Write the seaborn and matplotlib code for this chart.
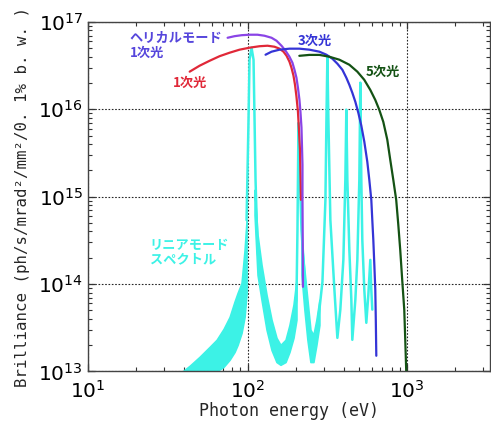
import numpy as np
import pandas as pd
import matplotlib
matplotlib.use("Agg")
import matplotlib.pyplot as plt
from matplotlib.ticker import LogLocator, FuncFormatter, NullFormatter
import seaborn as sns

# ---- undulator brilliance curves (photon energy in eV, brilliance) ----
linear_1st_E = [43.4, 50.1, 57.9, 66.8, 77.2, 89.1, 102.9, 118.9, 133.4, 147.5, 158.5, 167.9,
                175.4, 183.0, 188.4, 193.9, 198.2, 202.4, 206.8, 209.9, 212.9, 214.4, 216.0]
linear_1st_B = [2.7e16, 3.16e16, 3.6e16, 4.06e16, 4.45e16, 4.82e16, 5.08e16, 5.28e16, 5.35e16, 5.21e16, 4.95e16, 4.57e16,
                4.11e16, 3.51e16, 2.99e16, 2.43e16, 1.91e16, 1.40e16, 9.4e15, 5.8e15, 3.44e15, 1.78e15, 9.2e14]

helical_1st_E = [75.0, 82.9, 91.7, 102.9, 115.5, 127.7, 141.3, 151.8, 163.1, 172.9, 183.0, 191.0,
                 196.7, 202.4, 206.8, 211.3, 214.4, 217.6, 219.1, 220.8, 220.8, 221.6, 222.3]
helical_1st_B = [6.6e16, 6.88e16, 7.06e16, 7.15e16, 7.15e16, 6.96e16, 6.6e16, 6.1e16, 5.35e16, 4.69e16, 4.0e16, 3.42e16,
                 2.84e16, 2.3e16, 1.77e16, 1.29e16, 9.4e15, 6.2e15, 3.93e15, 2.32e15, 9.2e14, 3.2e14, 9.3e13]

linear_3rd_E = [129.6, 141.3, 158.5, 183.0, 211.3, 244.1, 281.8, 311.9, 339.8, 365.2, 392.4, 415.6, 434.0, 453.0,
                473.2, 494.2, 515.8, 538.5, 562.3, 578.8, 595.7, 604.3, 613.2, 622.3, 631.0, 635.6, 640.2]
linear_3rd_B = [4.22e16, 4.57e16, 4.82e16, 4.95e16, 4.95e16, 4.82e16, 4.57e16, 4.22e16, 3.8e16, 3.33e16, 2.84e16, 2.30e16,
                1.91e16, 1.55e16, 1.22e16, 9.1e15, 6.5e15, 4.26e15, 2.51e15, 1.56e15, 9.2e14, 5.4e14, 3.2e14, 1.66e14,
                8.6e13, 3.9e13, 1.51e13]

linear_5th_E = [211, 244, 282, 325.5, 376, 434, 487, 538, 587, 631, 668, 708, 750, 783, 818, 853, 879, 904,
                930, 958, 972, 986]
linear_5th_B = [4.1e16, 4.2e16, 4.2e16, 4.0e16, 3.7e16, 3.24e16, 2.7e16, 2.18e16, 1.67e16, 1.28e16, 9.9e15, 7.2e15,
                4.5e15, 2.64e15, 1.56e15, 9.2e14, 4.8e14, 2.46e14, 1.12e14, 5.1e13, 2.3e13, 9.9e12]

# ---- linear-mode spectrum: harmonic peaks and the dense side-lobe bands ----
spectrum_E = [98.6, 101.4, 102.9, 105.9, 109.0, 110.6, 112.2, 115.5, 122.3, 137.2, 158.5, 183.0,
              202.4, 205.4, 208.4, 211.3, 217.6, 230.4, 247.7, 266.1, 281.8, 294.4, 307.4, 311.9,
              316.2, 320.8, 330.1, 349.9, 365.2, 381.1, 398.1, 409.7, 415.6, 421.7, 434.0, 446.7,
              453.0, 473.2, 487.0, 501.2, 508.4, 515.8, 523.2, 538.5, 554.3, 570.6, 587.1, 595.7, 604.3]
spectrum_B = [5.4e14, 7.6e15, 3.7e16, 5.08e16, 3.7e16, 7.6e15, 1.56e15, 2.46e14, 1.06e14, 3.0e13, 1.55e13, 2.3e13,
              6.6e13, 4.2e14, 7.0e15, 2.64e15, 4.2e14, 8.6e13, 1.91e13, 2.3e13, 5.1e13, 1.06e14, 9.2e14, 7.6e15,
              4.01e16, 7.6e15, 5.4e14, 8.6e13, 2.42e13, 5.1e13, 1.89e14, 1.56e15, 9.9e15, 1.56e15, 2.46e14, 6.6e13,
              2.3e13, 6.6e13, 1.89e14, 1.56e15, 2.02e16, 1.56e15, 3.2e14, 8.6e13, 3.6e13, 7.5e13, 1.89e14, 8.6e13, 5.1e13]

band_low_E = [39.2, 43.4, 50.1, 57.9, 64.0, 70.8, 77.2, 82.9, 86.6, 91.7, 95.8, 98.6]
band_low_hi = [1.0e13, 1.16e13, 1.47e13, 1.91e13, 2.3e13, 3.07e13, 4.2e13, 6.3e13, 7.9e13, 1.03e14, 2.46e14, 5.4e14]
band_low_lo = [8e12, 8e12, 8e12, 8e12, 1.0e13, 1.13e13, 1.36e13, 1.67e13, 2.01e13, 2.76e13, 4.2e13, 7.9e13]

band_mid_E = [110.6, 115.5, 122.3, 131.5, 141.3, 151.8, 160.8, 172.9, 183.0, 193.9, 202.4]
band_mid_hi = [1.2e15, 3.65e14, 1.66e14, 7.5e13, 3.9e13, 2.42e13, 2.01e13, 2.3e13, 3.4e13, 5.8e13, 1.12e14]
band_mid_lo = [6.2e14, 1.27e14, 6.6e13, 3.0e13, 1.76e13, 1.28e13, 1.19e13, 1.28e13, 1.67e13, 2.42e13, 3.9e13]

band_high_E = [217.6, 227.0, 237.1, 247.7, 258.5, 269.9, 281.8]
band_high_hi = [3.2e14, 1.45e14, 6.6e13, 3.0e13, 2.62e13, 3.9e13, 6.6e13]
band_high_lo = [1.27e14, 5.1e13, 2.3e13, 1.28e13, 1.28e13, 2.01e13, 3.4e13]

CYAN = "#3cf2e6"
RED = "#e02838"
PURPLE = "#8a44e6"
BLUE = "#3434d6"
GREEN = "#145214"

sns.set_theme(style="ticks")
plt.rcParams["font.family"] = ["DejaVu Sans", "Noto Sans CJK JP"]
plt.rcParams["mathtext.default"] = "regular"

fig = plt.figure(figsize=(4.91, 4.23), dpi=100)
ax = fig.add_axes([0.179, 0.122, 0.819, 0.826])
ax.set_xscale("log")
ax.set_yscale("log")
ax.set_xlim(10, 3300)
ax.set_ylim(1e13, 1e17)

# linear-mode spectrum (drawn first, underneath the envelopes)
for bE, bhi, blo in [(band_low_E, band_low_hi, band_low_lo),
                     (band_mid_E, band_mid_hi, band_mid_lo),
                     (band_high_E, band_high_hi, band_high_lo)]:
    ax.fill_between(bE, blo, bhi, color=CYAN, lw=1.2, edgecolor=CYAN, zorder=2)
spec = pd.DataFrame({"E": spectrum_E, "B": spectrum_B})
sns.lineplot(data=spec, x="E", y="B", ax=ax, color=CYAN, lw=1.8, sort=False, estimator=None, zorder=2)

curves = [
    (linear_1st_E, linear_1st_B, RED, 3),
    (helical_1st_E, helical_1st_B, PURPLE, 4),
    (linear_3rd_E, linear_3rd_B, BLUE, 4),
    (linear_5th_E, linear_5th_B, GREEN, 4),
]
for cE, cB, col, z in curves:
    sns.lineplot(x=cE, y=cB, ax=ax, color=col, lw=1.6, sort=False, estimator=None, zorder=z)

# grid at the decades
ax.grid(True, which="major", color="black", ls=(0, (1.5, 1.5)), lw=0.8, alpha=0.85)

ax.xaxis.set_major_locator(LogLocator(base=10, numticks=10))
ax.xaxis.set_minor_locator(LogLocator(base=10, subs=np.arange(2, 10), numticks=20))
ax.yaxis.set_major_locator(LogLocator(base=10, numticks=10))
ax.yaxis.set_minor_locator(LogLocator(base=10, subs=np.arange(2, 10), numticks=20))
fmt = FuncFormatter(lambda v, p: r"$10^{%d}$" % round(np.log10(v)))
ax.xaxis.set_major_formatter(fmt)
ax.yaxis.set_major_formatter(fmt)
ax.xaxis.set_minor_formatter(NullFormatter())
ax.yaxis.set_minor_formatter(NullFormatter())
ax.tick_params(which="both", direction="in", top=True, right=True, colors="#333333", labelcolor="black")
ax.tick_params(which="major", length=5, width=0.9, labelsize=14.5)
ax.tick_params(which="minor", length=3, width=0.8)
ax.tick_params(axis="x", pad=6)
for s in ax.spines.values():
    s.set_color("#444444")
    s.set_linewidth(1.0)

ax.set_xlabel("Photon energy (eV)", family="DejaVu Sans Mono", fontsize=12, labelpad=0)
ax.set_ylabel("Brilliance (ph/s/mrad²/mm²/0. 1% b. w. )", family="DejaVu Sans Mono", fontsize=11.3, labelpad=6)

jp = dict(family=["Noto Sans CJK JP", "DejaVu Sans"], fontsize=9.5, fontweight="bold", linespacing=1.05)
ax.text(18.3, 7.9e16, "ヘリカルモード\n1次光", color="#5646dc", va="top", ha="left", **jp)
ax.text(34, 2.0e16, "1次光", color=RED, va="center", ha="left", **jp)
ax.text(205, 6.1e16, "3次光", color=BLUE, va="center", ha="left", **jp)
ax.text(546, 2.66e16, "5次光", color=GREEN, va="center", ha="left", **jp)
ax.text(24.4, 3.4e14, "リニアモード\nスペクトル", color=CYAN, va="top", ha="left", **jp)

fig.savefig("out.png", dpi=100)
